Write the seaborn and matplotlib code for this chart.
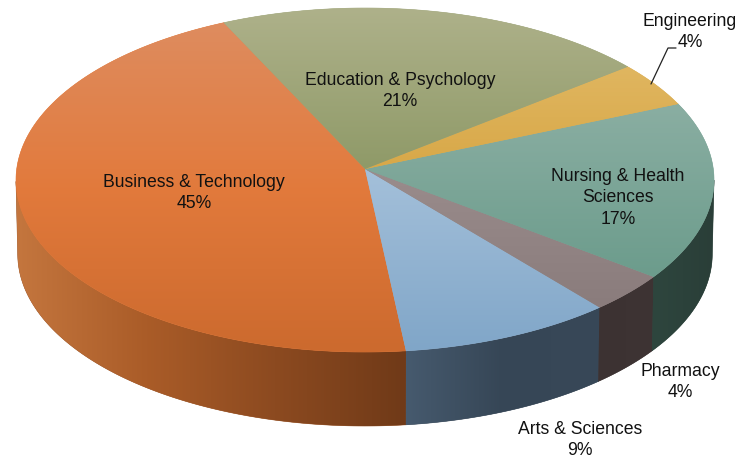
import numpy as np
import matplotlib
matplotlib.use('Agg')
import matplotlib.pyplot as plt
import seaborn as sns
from matplotlib.patches import Polygon

names = ['Business & Technology', 'Arts & Sciences', 'Pharmacy',
         'Nursing & Health\nSciences', 'Engineering', 'Education & Psychology']
shares = [44.7, 9.3, 3.6, 16.7, 4.3, 21.4]

# top face colours, upper end to lower end of each slice
top_colors = [['#de8c5f', '#e27a3c', '#cc6a2e'],
              ['#a4c0da', '#80a6c8'],
              ['#9a8c8c', '#8a7c7c'],
              ['#8aaea2', '#6c9c8c'],
              ['#e0b660', '#d8a848'],
              ['#aeb18a', '#8f9a68']]
# side wall colours, left to right
side_colors = [['#c4763e', '#aa5c28', '#8c4a20', '#703a18'],
               ['#465a6e', '#364656', '#384858'],
               ['#3c3232', '#3e3434'],
               ['#2e463e', '#2a3e38'],
               ['#2a3e38', '#2a3e38'],
               ['#2a3e38', '#2a3e38']]

label_pos = [(194, 193), (580, 440), (680, 382), (618, 198), (690, 32), (400, 91)]

start_angle = 115.4
apex_x, apex_y = 365, 169
rx, ry, persp = 348.3, 171.3, 0.064
depth = 74


def rim(theta):
    t = np.radians(theta)
    w = 1 + persp * np.sin(t)
    return apex_x + rx * np.cos(t) / w, apex_y - ry * np.sin(t) / w


sns.set_theme(style='white')
plt.rcParams['font.family'] = ['Liberation Sans', 'DejaVu Sans']

fig = plt.figure(figsize=(7.4, 4.58), dpi=100)
ax = fig.add_axes([0, 0, 1, 1])
ax.set_xlim(0, 740)
ax.set_ylim(458, 0)
ax.axis('off')

edges = start_angle + 3.6 * np.concatenate([[0], np.cumsum(shares)])


def gradient_fill(xs, ys, colors, horizontal, zorder):
    pal = sns.blend_palette(colors, 128)
    poly = Polygon(np.c_[xs, ys], closed=True, fc=pal[64], ec=pal[64], lw=0.4, zorder=zorder)
    ax.add_patch(poly)
    grad = np.array(pal)[None, :, :] if horizontal else np.array(pal)[:, None, :]
    im = ax.imshow(grad, extent=(xs.min(), xs.max(), ys.max(), ys.min()),
                   aspect='auto', interpolation='bilinear', zorder=zorder + 1)
    im.set_clip_path(poly)


# side wall first, only the part below the widest point of the rim shows
for i in range(len(shares)):
    ts = np.linspace(edges[i], edges[i + 1], 200)
    ts = ts[np.sin(np.radians(ts)) < -persp]
    if len(ts) < 2:
        continue
    x, y = rim(ts)
    xb = apex_x + (x - apex_x) * 0.995
    gradient_fill(np.r_[x, xb[::-1]], np.r_[y, y[::-1] + depth], side_colors[i], True, 2)

# top faces
for i in range(len(shares)):
    x, y = rim(np.linspace(edges[i], edges[i + 1], 200))
    gradient_fill(np.r_[apex_x, x], np.r_[apex_y, y], top_colors[i], False, 4)

ax.set_xlim(0, 740)
ax.set_ylim(458, 0)

for name, share, (lx, ly) in zip(names, shares, label_pos):
    ax.text(lx, ly, f'{name}\n{share:.0f}%', ha='center', va='center',
            fontsize=12.7, color='#111111', linespacing=1.32, zorder=7)

# leader line for the small slice
ax.plot([651, 668, 676], [84, 48, 48], color='#222222', lw=0.9, zorder=6)

fig.savefig('out.png', dpi=100)
